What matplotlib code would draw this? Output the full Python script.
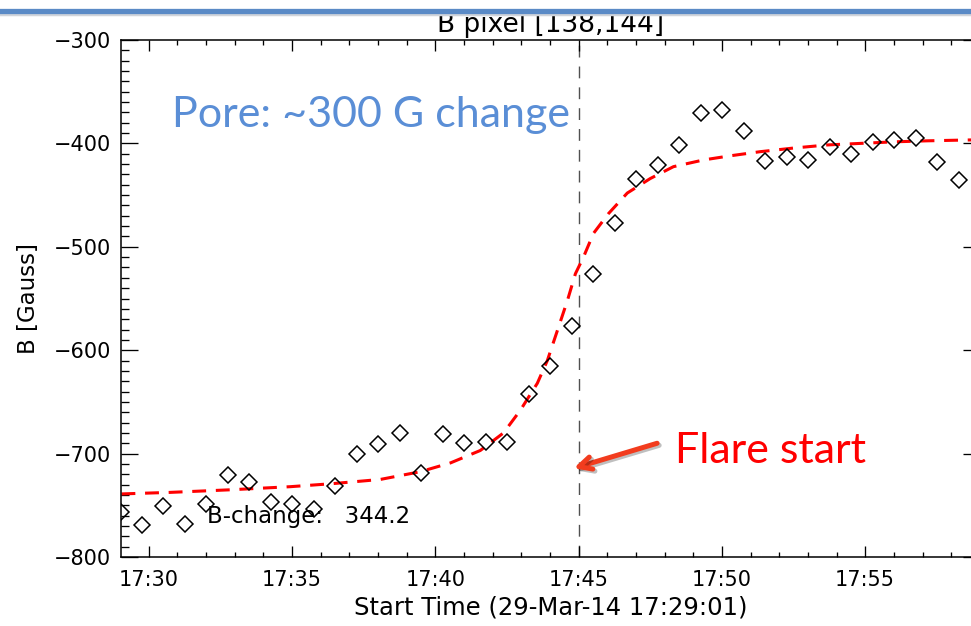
import numpy as np
import matplotlib
matplotlib.use("Agg")
from matplotlib import pyplot as plt
from matplotlib.ticker import MultipleLocator, FuncFormatter
from matplotlib.lines import Line2D
import matplotlib.patheffects as pe

plt.rcParams['lines.scale_dashes'] = False
plt.rcParams['font.family'] = ['DejaVu Sans']

# observation times (45 s cadence) and field strength of pixel [138,144]
obs_times = ["17:29:01", "17:29:46", "17:30:31", "17:31:16", "17:32:01",
             "17:32:46", "17:33:31", "17:34:16", "17:35:01", "17:35:46",
             "17:36:31", "17:37:16", "17:38:01", "17:38:46", "17:39:31",
             "17:40:16", "17:41:01", "17:41:46", "17:42:31", "17:43:16",
             "17:44:01", "17:44:46", "17:45:31", "17:46:16", "17:47:01",
             "17:47:46", "17:48:31", "17:49:16", "17:50:01", "17:50:46",
             "17:51:31", "17:52:16", "17:53:01", "17:53:46", "17:54:31",
             "17:55:16", "17:56:01", "17:56:46", "17:57:31", "17:58:16"]
b_obs = [-756, -769, -751, -768, -749, -721, -727, -747, -749, -754,
         -731, -700, -691, -680, -719, -681, -690, -689, -689, -642,
         -615, -577, -526, -477, -434, -421, -402, -371, -368, -388,
         -417, -413, -416, -403, -410, -399, -397, -395, -418, -435]

# step fit (minutes after 17:00)
fit_min = [29.05, 30.76, 32.85, 34.94, 36.44, 38.08, 39.48, 40.53, 41.57,
           42.38, 42.97, 43.56, 43.91, 44.26, 44.61, 44.89, 45.17, 45.52,
           46.04, 46.70, 47.50, 48.31, 49.36, 50.29, 51.34, 52.50, 53.68,
           54.83, 56.00, 57.17, 58.57, 59.06]
fit_b = [-739, -737.5, -735, -732, -729, -725, -717.5, -709, -697,
         -680, -658, -632, -610, -581, -552, -526, -510, -487,
         -468, -448, -434, -422.5, -416, -412, -408, -404.5, -401.5,
         -400, -398.5, -397.5, -396.7, -396.5]

b_change = 344.2
flare_start = "17:45:00"
t_start = "17:29:01"


def to_min(s):
    h, m, sec = map(int, s.split(':'))
    return (h - 17) * 60 + m + sec / 60.0


t_obs = [to_min(s) for s in obs_times]
t0 = to_min(t_start)

fig = plt.figure(figsize=(9.71, 6.26), dpi=100)
ax = fig.add_axes([120.5 / 971, 69 / 626, 859.8 / 971, 517 / 626])

ax.plot(fit_min, fit_b, color='#ff0000', lw=2.2, dashes=(10, 7), zorder=2)
ax.plot(t_obs, b_obs, 'D', ms=8.6, mfc='none', mec='black', mew=1.1, zorder=3)
ax.axvline(to_min(flare_start), color='#505050', lw=1.0, dashes=(8.5, 6.5), zorder=1)

ax.set_xlim(t0, t0 + 30)
ax.set_ylim(-800, -300)

ax.xaxis.set_major_locator(MultipleLocator(5))
ax.xaxis.set_minor_locator(MultipleLocator(1))
ax.xaxis.set_major_formatter(FuncFormatter(lambda v, p: "17:%02d" % int(round(v))))
ax.yaxis.set_major_locator(MultipleLocator(100))
ax.yaxis.set_minor_locator(MultipleLocator(10))

ax.tick_params(which='both', direction='in', top=True, right=True,
               width=0.95, labelsize=15, colors='black')
ax.tick_params(axis='x', which='major', length=7.6, pad=9)
ax.tick_params(axis='x', which='minor', length=3.8)
ax.tick_params(axis='y', which='major', length=11.9, pad=7)
ax.tick_params(axis='y', which='minor', length=6)
for sp in ax.spines.values():
    sp.set_linewidth(1.1)

ax.set_xlabel("Start Time (29-Mar-14 17:29:01)", fontsize=17.5, labelpad=4)
ax.set_ylabel("B [Gauss]", fontsize=16.5, labelpad=10)
ax.set_title("B pixel [138,144]", fontsize=19, pad=6)

ax.text(32.05, -767, "B-change:   %.1f" % b_change, fontsize=16.5, ha='left', va='baseline')

ax.text(30.83, -384, "Pore: ~300 G change", fontsize=31, color='#5a8ed6',
        family=['Lato', 'DejaVu Sans'], ha='left', va='baseline')
ax.text(48.38, -709, "Flare start", fontsize=31, color='#ff0000',
        family=['Lato', 'DejaVu Sans'], ha='left', va='baseline')
ax.annotate("", xy=(44.83, -714.2), xytext=(47.74, -690),
            arrowprops=dict(arrowstyle='->,head_length=0.9,head_width=0.45',
                            color='#f23c1e', lw=3.6, shrinkA=0, shrinkB=0,
                            path_effects=[pe.SimpleLineShadow(offset=(1.5, -1.5), alpha=0.25),
                                          pe.Normal()]))

# slide header rule
fig.add_artist(Line2D([0, 1], [1 - 13.5 / 626, 1 - 13.5 / 626], transform=fig.transFigure,
                      color='#d0d4da', lw=2.5, zorder=9))
fig.add_artist(Line2D([0, 1], [1 - 10.5 / 626, 1 - 10.5 / 626], transform=fig.transFigure,
                      color='#5a8ac6', lw=3.8, zorder=10))

fig.savefig("out.png", dpi=100)
